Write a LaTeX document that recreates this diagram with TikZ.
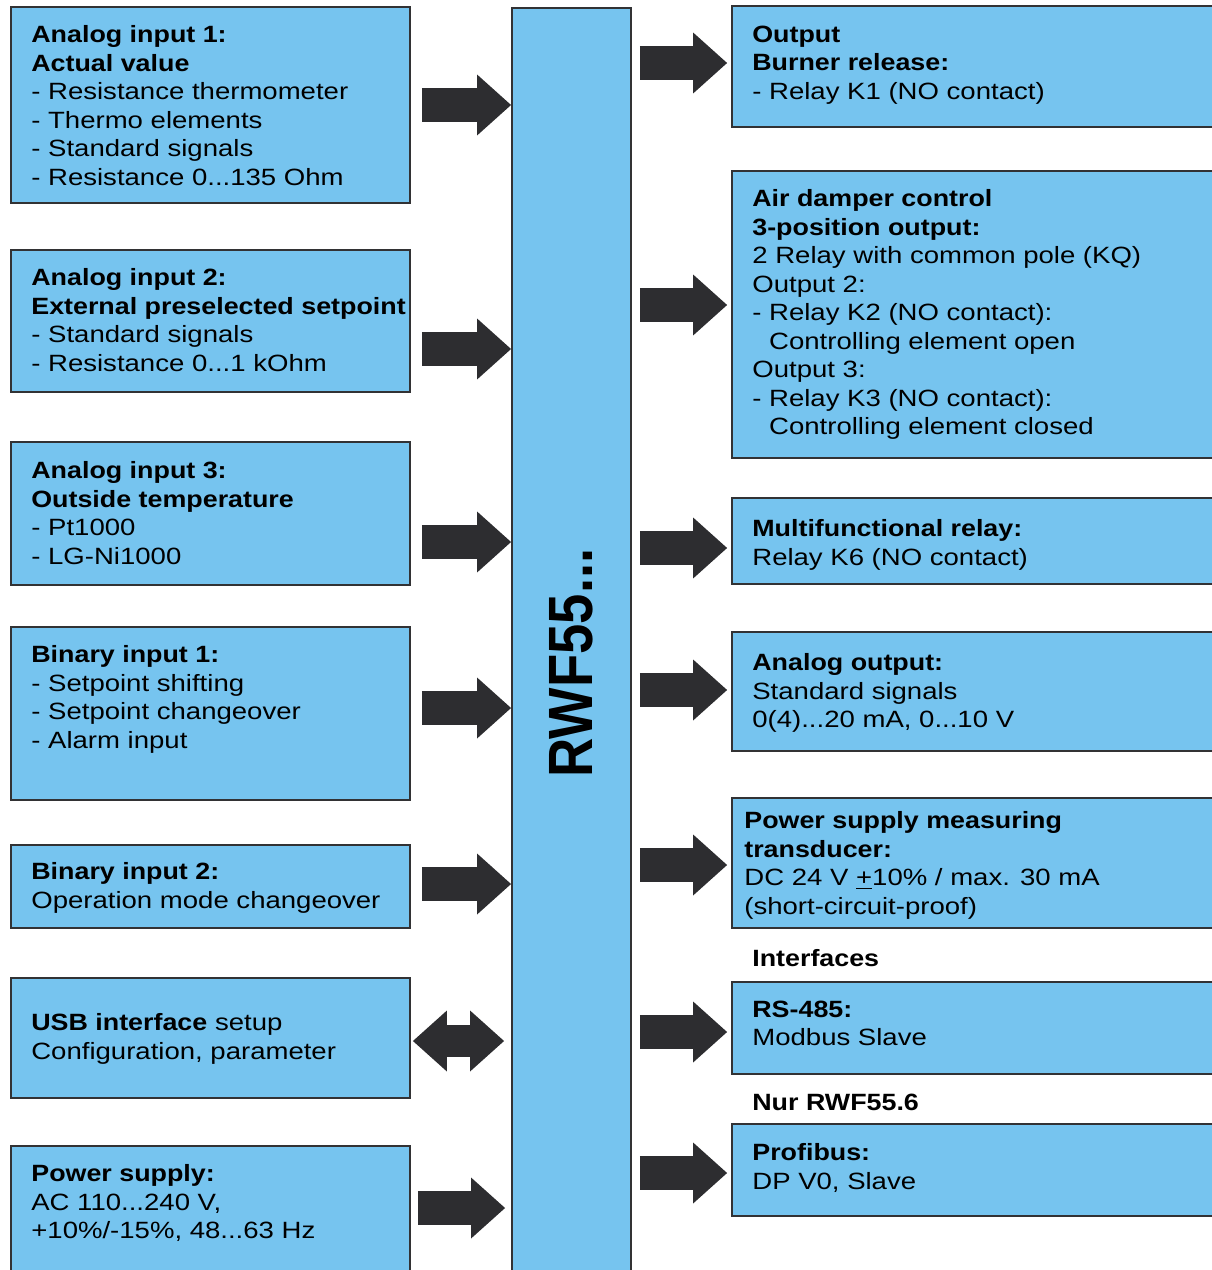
\documentclass[tikz,border=0pt]{standalone}
\usepackage{fontspec}
\setmainfont{Liberation Sans}[FakeStretch=1.17, BoldFeatures={FakeStretch=1.14}]
\newfontfamily\barfont{Liberation Sans}[FakeStretch=0.87]
\usetikzlibrary{arrows.meta,calc,positioning}
\definecolor{boxblue}{RGB}{118,196,239}
\definecolor{arrowgray}{RGB}{45,45,48}
\definecolor{edgegray}{RGB}{50,50,52}

\begin{document}
\begin{tikzpicture}
  [x=0.02cm, y=-0.02cm,
   block/.style={draw=edgegray, line width=1.1pt, fill=boxblue, inner sep=0pt},
   txt/.style={anchor=north west, align=left, inner sep=0pt, font=\fontsize{13.4pt}{16.2pt}\selectfont,
     execute at begin node={\rule{0pt}{10pt}}},
   flow/.style={draw=arrowgray, line width=0.68cm, -{Triangle[length=0.68cm, width=1.22cm, line width=0pt]}},
   bothflow/.style={draw=arrowgray, line width=0.64cm, {Triangle[length=0.68cm, width=1.22cm, line width=0pt]}-{Triangle[length=0.68cm, width=1.22cm, line width=0pt]}}]
  \clip (0,0) rectangle (1212,1270);

  % controller
  \node[block, minimum width=2.38cm, minimum height=25.64cm] (bar) at (571.5,649) {};
  \node[inner sep=0pt, rotate=90, font=\barfont\bfseries\fontsize{35.6pt}{40pt}\selectfont] (barlbl) at (571,663) {RWF55...};

  % inputs
  \node[block, minimum width=7.98cm, minimum height=3.92cm] (ai1) at (210.5,105) {};
  \node[block, minimum width=7.98cm, minimum height=2.84cm] (ai2) at (210.5,321) {};
  \node[block, minimum width=7.98cm, minimum height=2.86cm] (ai3) at (210.5,513.5) {};
  \node[block, minimum width=7.98cm, minimum height=3.46cm] (bi1) at (210.5,713.5) {};
  \node[block, minimum width=7.98cm, minimum height=1.66cm] (bi2) at (210.5,886.5) {};
  \node[block, minimum width=7.98cm, minimum height=2.40cm] (usb) at (210.5,1038) {};
  \node[block, minimum width=7.98cm, minimum height=2.88cm] (psu) at (210.5,1218) {};

  \node[txt] (ai1txt) at (31,25.4) {\textbf{Analog input 1:}\\\textbf{Actual value}\\- Resistance thermometer\\- Thermo elements\\- Standard signals\\- Resistance 0...135 Ohm};
  \node[txt] (ai2txt) at (31,268.4) {\textbf{Analog input 2:}\\\textbf{External preselected setpoint}\\- Standard signals\\- Resistance 0...1 kOhm};
  \node[txt] (ai3txt) at (31,461.4) {\textbf{Analog input 3:}\\\textbf{Outside temperature}\\- Pt1000\\- LG-Ni1000};
  \node[txt] (bi1txt) at (31,645.4) {\textbf{Binary input 1:}\\- Setpoint shifting\\- Setpoint changeover\\- Alarm input};
  \node[txt] (bi2txt) at (31,862.4) {\textbf{Binary input 2:}\\Operation mode changeover};
  \node[txt] (usbtxt) at (31,1013.4) {\textbf{USB interface} setup\\Configuration, parameter};
  \node[txt] (psutxt) at (31,1164.4) {\textbf{Power supply:}\\AC 110...240 V,\\+10\%/-15\%, 48...63 Hz};

  % outputs
  \node[block, minimum width=9.96cm, minimum height=2.42cm] (burner) at (981,66.5) {};
  \node[block, minimum width=9.96cm, minimum height=5.74cm] (damper) at (981,314.5) {};
  \node[block, minimum width=9.96cm, minimum height=1.72cm] (mfrelay) at (981,541) {};
  \node[block, minimum width=9.96cm, minimum height=2.38cm] (aout) at (981,691.5) {};
  \node[block, minimum width=9.96cm, minimum height=2.60cm] (transd) at (981,863) {};
  \node[block, minimum width=9.96cm, minimum height=1.84cm] (rs485) at (981,1028) {};
  \node[block, minimum width=9.96cm, minimum height=1.84cm] (profibus) at (981,1170) {};

  \node[txt] (burnertxt) at (752,25.4) {\textbf{Output}\\\textbf{Burner release:}\\- Relay K1 (NO contact)};
  \node[txt] (dampertxt) at (752,189.4) {\textbf{Air damper control}\\\textbf{3-position output:}\\2 Relay with common pole (KQ)\\Output 2:\\- Relay K2 (NO contact):\\\phantom{- }Controlling element open\\Output 3:\\- Relay K3 (NO contact):\\\phantom{- }Controlling element closed};
  \node[txt] (mfrelaytxt) at (752,519.4) {\textbf{Multifunctional relay:}\\Relay K6 (NO contact)};
  \node[txt] (aouttxt) at (752,653.4) {\textbf{Analog output:}\\Standard signals\\0(4)...20 mA, 0...10 V};
  \node[txt] (transdtxt) at (744,811.4) {\textbf{Power supply measuring}\\\textbf{transducer:}\\DC 24 V \underline{+}10\% / max. 30 mA\\(short-circuit-proof)};
  \node[txt] (ifacelbl) at (752,948.4) {\textbf{Interfaces}};
  \node[txt] (rs485txt) at (752,1000.4) {\textbf{RS-485:}\\Modbus Slave};
  \node[txt] (nurlbl) at (752,1092.4) {\textbf{Nur RWF55.6}};
  \node[txt] (profibustxt) at (752,1143.4) {\textbf{Profibus:}\\DP V0, Slave};

  % arrows in
  \draw[flow] ($(ai1.east)+(11,0)$) -- (bar.west |- ai1.east);
  \draw[flow] ($(ai2.east |- 0,349)+(11,0)$) -- (bar.west |- 0,349);
  \draw[flow] ($(ai3.east |- 0,542)+(11,0)$) -- (bar.west |- 0,542);
  \draw[flow] ($(bi1.east |- 0,708)+(11,0)$) -- (bar.west |- 0,708);
  \draw[flow] ($(bi2.east |- 0,884)+(11,0)$) -- (bar.west |- 0,884);
  \draw[bothflow] ($(usb.east |- 0,1041)+(2,0)$) -- ($(bar.west |- 0,1041)+(-7,0)$);
  \draw[flow] ($(psu.east |- 0,1208)+(7,0)$) -- ($(bar.west |- 0,1208)+(-6,0)$);

  % arrows out
  \draw[flow] ($(bar.east |- 0,63)+(8,0)$) -- ($(burner.west |- 0,63)+(-4,0)$);
  \draw[flow] ($(bar.east |- 0,305)+(8,0)$) -- ($(damper.west |- 0,305)+(-4,0)$);
  \draw[flow] ($(bar.east |- 0,548)+(8,0)$) -- ($(mfrelay.west |- 0,548)+(-4,0)$);
  \draw[flow] ($(bar.east |- 0,690)+(8,0)$) -- ($(aout.west |- 0,690)+(-4,0)$);
  \draw[flow] ($(bar.east |- 0,865)+(8,0)$) -- ($(transd.west |- 0,865)+(-4,0)$);
  \draw[flow] ($(bar.east |- 0,1032)+(8,0)$) -- ($(rs485.west |- 0,1032)+(-4,0)$);
  \draw[flow] ($(bar.east |- 0,1173)+(8,0)$) -- ($(profibus.west |- 0,1173)+(-4,0)$);
\end{tikzpicture}
\end{document}
